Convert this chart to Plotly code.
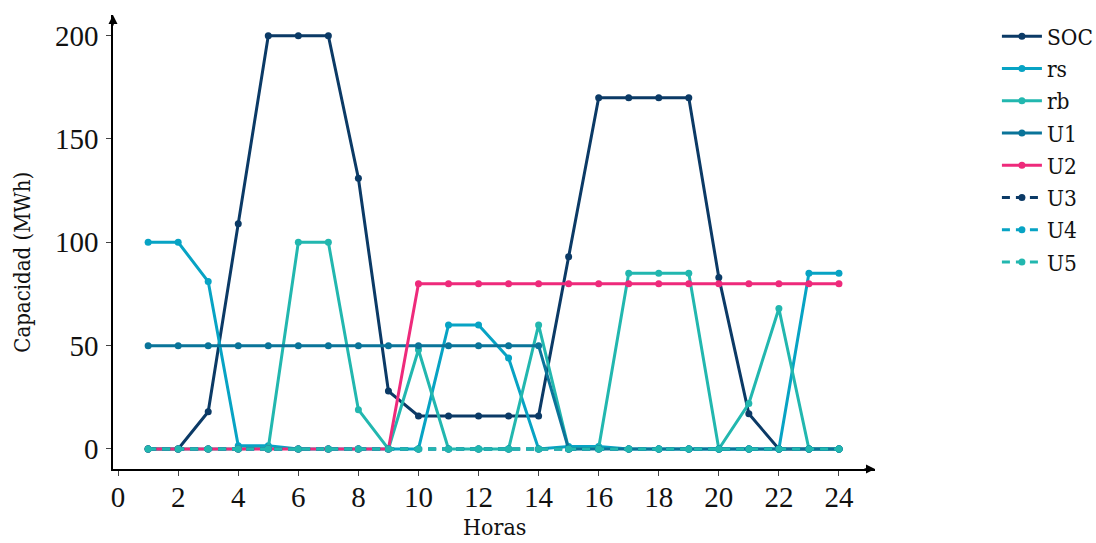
import plotly.graph_objects as go

horas = list(range(1, 25))
soc = [0, 0, 18, 109, 200, 200, 200, 131, 28, 16, 16, 16, 16, 16, 93, 170, 170, 170, 170, 83, 17, 0, 0, 0]
rs = [100, 100, 81, 1.5, 1.5, 0, 0, 0, 0, 0, 60, 60, 44, 0, 1.2, 1.2, 0, 0, 0, 0, 0, 0, 85, 85]
rb = [0, 0, 0, 0, 0.5, 100, 100, 19, 0, 48, 0, 0, 0, 60, 0, 0.5, 85, 85, 85, 0, 22, 68, 0, 0]
u1 = [50] * 14 + [0] * 10
u2 = [0] * 9 + [80] * 15
u3 = [0] * 24
u4 = [0] * 24
u5 = [0] * 24

series = [
    ("SOC", soc, "#0b3a66", "solid"),
    ("rs", rs, "#07a3c4", "solid"),
    ("rb", rb, "#22b7af", "solid"),
    ("U1", u1, "#0a7499", "solid"),
    ("U2", u2, "#ee2a7b", "solid"),
    ("U3", u3, "#0b3a66", "8px,6px"),
    ("U4", u4, "#07a3c4", "8px,6px"),
    ("U5", u5, "#22b7af", "8px,6px"),
]

x_ticks = list(range(0, 25, 2))
y_ticks = [0, 50, 100, 150, 200]

fig = go.Figure()
for name, vals, color, dash in series:
    fig.add_trace(go.Scatter(
        x=horas, y=vals, name=name, mode="lines+markers",
        line=dict(color=color, width=3, dash=dash),
        marker=dict(color=color, size=7),
    ))

label_family = "DejaVu Serif Condensed, DejaVu Serif, serif"
tick_font = dict(family="Liberation Serif", size=29, color="#111")
xr = [-0.17, 25.2]
yr = [-9.7, 210]

fig.update_layout(
    width=1096, height=543,
    margin=dict(l=113, r=221, t=15, b=74, autoexpand=False),
    plot_bgcolor="white", paper_bgcolor="white",
    showlegend=True,
    legend=dict(x=1.16, y=1.0, xanchor="left", yanchor="top",
                font=dict(family=label_family, size=22.5, color="#111"),
                bgcolor="rgba(0,0,0,0)", itemwidth=40),
    xaxis=dict(range=xr, tickvals=x_ticks, ticktext=[str(v) for v in x_ticks],
               showgrid=False, zeroline=False, showline=True, linecolor="black", linewidth=1.5,
               ticks="outside", ticklen=5, tickcolor="#444", tickfont=tick_font,
               ticklabelstandoff=-4),
    yaxis=dict(range=yr, tickvals=y_ticks, ticktext=[str(v) for v in y_ticks],
               showgrid=False, zeroline=False, showline=True, linecolor="black", linewidth=1.5,
               ticks="outside", ticklen=5, tickcolor="#444", tickfont=tick_font,
               ticklabelstandoff=2),
)

# axis titles
fig.add_annotation(text="Horas", x=0.5, y=-0.161, xref="paper", yref="paper",
                   showarrow=False, xanchor="center", yanchor="bottom",
                   font=dict(family=label_family, size=23, color="#111"))
fig.add_annotation(text="Capacidad (MWh)", x=-0.119, y=0.455, xref="paper", yref="paper",
                   showarrow=False, xanchor="center", yanchor="middle", textangle=-90,
                   font=dict(family=label_family, size=22, color="#111"))

# arrowheads on axes
fig.add_annotation(x=xr[1], y=yr[0], xref="x", yref="y", ax=-12, ay=0, axref="pixel", ayref="pixel",
                   showarrow=True, arrowhead=2, arrowsize=1.2, arrowwidth=1.5, arrowcolor="black", text="")
fig.add_annotation(x=xr[0], y=yr[1], xref="x", yref="y", ax=0, ay=12, axref="pixel", ayref="pixel",
                   showarrow=True, arrowhead=2, arrowsize=1.2, arrowwidth=1.5, arrowcolor="black", text="")

fig.write_html("out.html", config={"displayModeBar": False},
               post_script="document.body.style.margin='0';")
